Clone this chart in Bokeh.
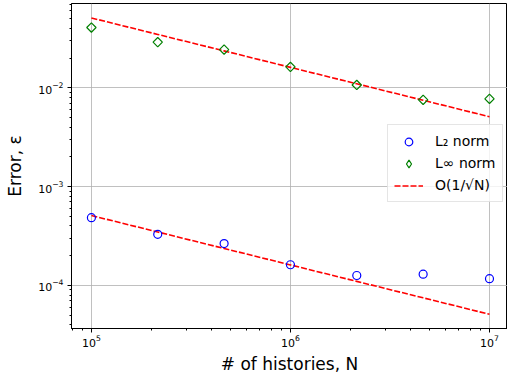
import numpy as np
from bokeh.plotting import figure
from bokeh.models import Legend, LegendItem, LogTicker, Range1d
from bokeh.embed import file_html
from bokeh.resources import INLINE

# ---- data ----
histories = [1.0e5, 2.154e5, 4.642e5, 1.0e6, 2.154e6, 4.642e6, 1.0e7]
l2_error = [4.85e-4, 3.29e-4, 2.65e-4, 1.62e-4, 1.26e-4, 1.30e-4, 1.17e-4]
linf_error = [4.08e-2, 2.90e-2, 2.44e-2, 1.63e-2, 1.07e-2, 7.56e-3, 7.74e-3]
ref_l2 = [5.10e-4, 3.475e-4, 2.367e-4, 1.613e-4, 1.099e-4, 7.49e-5, 5.10e-5]
ref_linf = [5.10e-2, 3.475e-2, 2.367e-2, 1.613e-2, 1.099e-2, 7.49e-3, 5.10e-3]

labels = ["L\u2082 norm", "L\u221e norm", "O(1/\u221aN)"]

FONT = "DejaVu Sans"

p = figure(width=507, height=379, x_axis_type="log", y_axis_type="log",
           x_range=Range1d(10**4.9, 10**7.0905), y_range=Range1d(10**-4.436, 10**-1.146),
           output_backend="svg", toolbar_location=None,
           min_border_left=71, min_border_right=0, min_border_top=3, min_border_bottom=51)

p.background_fill_color = "white"
p.outline_line_color = "black"
p.outline_line_width = 1

for ax in (p.xaxis[0], p.yaxis[0]):
    ax.axis_line_color = "black"
    ax.major_tick_in = 0
    ax.major_tick_out = 4
    ax.minor_tick_in = 0
    ax.minor_tick_out = 2
    ax.major_label_text_font = FONT
    ax.major_label_text_font_size = "11px"
    ax.major_label_text_color = "black"
    ax.axis_label_text_font = FONT
    ax.axis_label_text_font_size = "17px"
    ax.axis_label_text_font_style = "normal"
    ax.axis_label_text_color = "black"

p.xaxis.ticker = LogTicker(num_minor_ticks=10, desired_num_ticks=3)
p.yaxis.ticker = LogTicker(num_minor_ticks=10, desired_num_ticks=4)
p.xaxis.axis_label = "# of histories, N"
p.yaxis.axis_label = "Error, \u03b5"
p.xaxis.major_label_standoff = 2
p.yaxis.major_label_standoff = 4
p.xaxis.axis_label_standoff = 4
p.yaxis.axis_label_standoff = 10

p.grid.grid_line_color = "#b0b0b0"
p.grid.grid_line_width = 0.8

# reference lines
r_ref1 = p.line(histories, ref_l2, line_color="#ff0000", line_width=1.6, line_dash="6 2")
p.line(histories, ref_linf, line_color="#ff0000", line_width=1.6, line_dash="6 2")

r_l2 = p.scatter(histories, l2_error, marker="circle", size=8, fill_color=None,
                 line_color="#0000ff", line_width=1.2)
p.scatter(histories, linf_error, marker="square", angle=np.pi / 4, size=6.6,
          fill_color=None, line_color="#008000", line_width=1.2)
# legend-only glyph (a single NaN point, nothing drawn) so the legend shows a diamond
r_linf_leg = p.scatter([np.nan], [np.nan], marker="diamond", size=11,
                       fill_color=None, line_color="#008000", line_width=1.2)

legend = Legend(items=[LegendItem(label=labels[0], renderers=[r_l2]),
                       LegendItem(label=labels[1], renderers=[r_linf_leg]),
                       LegendItem(label=labels[2], renderers=[r_ref1])],
                location=(316, 126))
legend.label_text_font = FONT
legend.label_text_font_size = "14px"
legend.label_text_color = "black"
legend.glyph_width = 29
legend.glyph_height = 19
legend.label_height = 20
legend.label_standoff = 12
legend.spacing = 2
legend.padding = 6
legend.margin = 0
legend.border_line_color = "#cccccc"
legend.border_line_width = 1
legend.background_fill_alpha = 0.8
p.add_layout(legend, "center")

open("out.html", "w").write(file_html(p, INLINE))
